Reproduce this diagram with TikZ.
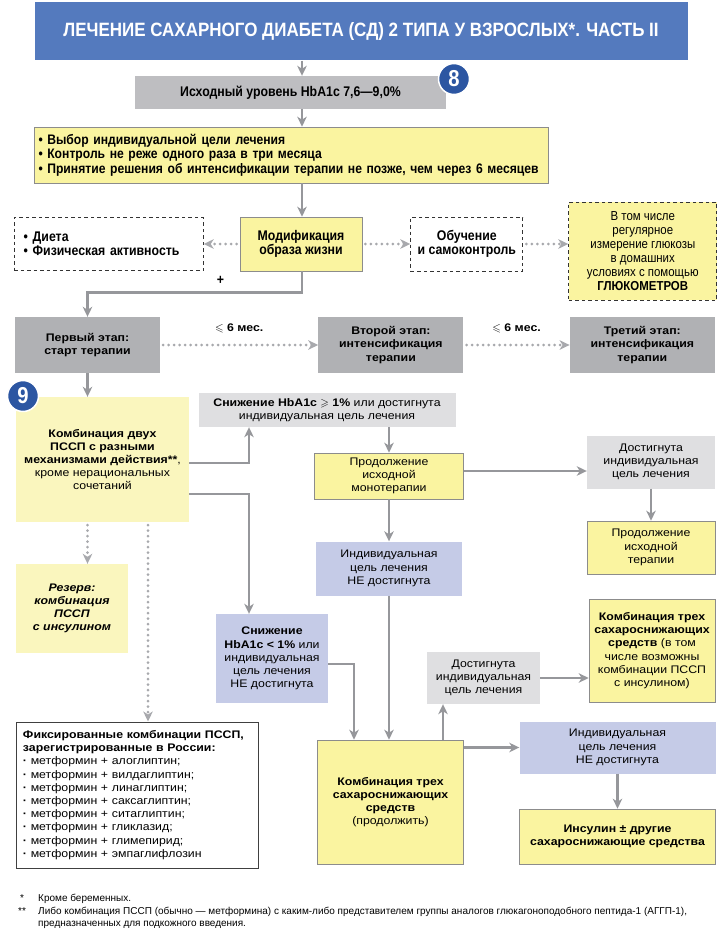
\documentclass[tikz,border=0pt]{standalone}
\usepackage{fontspec}
\setmainfont{Liberation Sans}[FakeStretch=1.12]
\newfontfamily\condfont{Liberation Sans}[FakeStretch=0.88, Ligatures=TeX]
\newfontfamily\notefont{Liberation Sans}[FakeStretch=1.0, Ligatures=TeX]
\usepackage{amssymb}
\usetikzlibrary{arrows.meta, positioning, calc}
\definecolor{titlecolor}{RGB}{84, 122, 190}
\definecolor{badgecolor}{RGB}{44, 86, 162}
\definecolor{stagecolor}{RGB}{176, 177, 180}
\definecolor{startcolor}{RGB}{190, 190, 193}
\definecolor{notecolor}{RGB}{223, 223, 225}
\definecolor{actioncolor}{RGB}{250, 244, 160}
\definecolor{palecolor}{RGB}{250, 246, 190}
\definecolor{failcolor}{RGB}{197, 203, 231}
\definecolor{linecolor}{RGB}{150, 151, 155}
\definecolor{dotcolor}{RGB}{168, 169, 173}
\definecolor{edgecolor}{RGB}{140, 140, 140}
\newcommand{\diagfont}{\fontsize{11}{13.2}\selectfont}
\newcommand{\diagcond}{\condfont\fontsize{14}{14.5}\selectfont}

\begin{document}
\begin{tikzpicture}[
    x=1pt, y=-1pt,
    >={Stealth[length=10pt, width=9.5pt, inset=3pt]},
    plain/.style={rectangle, inner sep=0pt, align=center, font=\diagfont},
    stagebox/.style={plain, fill=stagecolor, font=\diagfont\bfseries, minimum width=145pt, minimum height=56pt},
    notebox/.style={plain, fill=notecolor},
    actionbox/.style={plain, fill=actioncolor, draw=edgecolor, line width=0.6pt},
    palebox/.style={plain, fill=palecolor},
    failbox/.style={plain, fill=failcolor},
    dashbox/.style={plain, draw=black!80, line width=1pt, dash pattern=on 3.5pt off 3pt, font=\diagcond\bfseries},
    badge/.style={circle, fill=badgecolor, draw=white, line width=1.5pt, minimum size=31pt, inner sep=0pt, text=white, font=\condfont\fontsize{23}{23}\selectfont\bfseries},
    arrow/.style={->, line width=2.5pt, linecolor},
    dotarrow/.style={->, line width=3pt, dotcolor, dash pattern=on 0pt off 5.5pt, line cap=round, shorten <=3pt},
    note/.style={font=\notefont\fontsize{10}{12}\selectfont, inner sep=0pt, anchor=north west, align=left}
]
\useasboundingbox (0,0) rectangle (720,934);

% ========== TOP ==========
\node[plain, fill=titlecolor, minimum width=653pt, minimum height=58pt, text=white,
      font=\condfont\fontsize{19.3}{22}\selectfont\bfseries] (title) at (361,31.5)
    {ЛЕЧЕНИЕ САХАРНОГО ДИАБЕТА (СД) 2 ТИПА У ВЗРОСЛЫХ*. ЧАСТЬ II};

\node[plain, fill=startcolor, minimum width=311pt, minimum height=33pt, font=\diagcond\bfseries] (hba) at (290.5,92.5)
    {Исходный уровень HbA1c 7,6—9,0\%};
\node[badge] (badge8) at (454,79) {8};

\node[actionbox, text width=506pt, inner xsep=4pt, minimum height=56pt, align=left,
      font=\condfont\fontsize{13.8}{14.5}\selectfont\bfseries] (goals) at (291.5,155) {
    • Выбор индивидуальной цели лечения\\
    • Контроль не реже одного раза в три месяца\\
    • Принятие решения об интенсификации терапии не позже, чем через 6 месяцев
};

% ========== LIFESTYLE ==========
\node[actionbox, minimum width=122pt, minimum height=54pt, font=\diagcond\bfseries] (lifestyle) at (301,244)
    {Модификация\\образа жизни};
\node[dashbox, left=36pt of lifestyle, text width=170pt, inner xsep=9.5pt, minimum height=53pt, align=left] (diet)
    {• Диета\\• Физическая активность};
\node[dashbox, right=48pt of lifestyle, minimum width=112pt, minimum height=54pt] (edu)
    {Обучение\\и самоконтроль};
\node[dashbox, fill=actioncolor, right=45pt of edu, yshift=-7pt, minimum width=148pt, minimum height=98pt,
      font=\condfont\fontsize{13}{14}\selectfont] (meter) {
    В том числе\\регулярное\\измерение глюкозы\\в домашних\\условиях с помощью\\\textbf{ГЛЮКОМЕТРОВ}
};

% ========== STAGES ==========
\node[stagebox] (stage1) at (87.5,345) {Первый этап:\\старт терапии};
\node[stagebox, right=158pt of stage1] (stage2) {Второй этап:\\интенсификация\\терапии};
\node[stagebox, right=106pt of stage2] (stage3) {Третий этап:\\интенсификация\\терапии};

% ========== FIRST STAGE ==========
\node[palebox, minimum width=173pt, minimum height=125pt] (combo2) at (102.5,459.5) {
    \textbf{Комбинация двух}\\\textbf{ПССП с разными}\\\textbf{механизмами действия**},\\кроме нерациональных\\сочетаний
};
\node[badge] (badge9) at (23,396) {9};

\node[palebox, minimum width=112pt, minimum height=89pt, font=\diagfont\bfseries\itshape] (reserve) at (72,608.5)
    {Резерв:\\комбинация\\ПССП\\с инсулином};

\node[plain, draw=black!75, line width=1pt, text width=228pt, inner xsep=7pt, minimum height=146pt, align=left] (fixed) at (137,795) {
    \textbf{Фиксированные комбинации ПССП,}\\
    \textbf{зарегистрированные в России:}\\
    \textbf{·} метформин + алоглиптин;\\
    \textbf{·} метформин + вилдаглиптин;\\
    \textbf{·} метформин + линаглиптин;\\
    \textbf{·} метформин + саксаглиптин;\\
    \textbf{·} метформин + ситаглиптин;\\
    \textbf{·} метформин + гликлазид;\\
    \textbf{·} метформин + глимепирид;\\
    \textbf{·} метформин + эмпаглифлозин
};

% ========== OUTCOMES ==========
\node[notebox, minimum width=257pt, minimum height=34pt] (drop1) at (327,410)
    {\textbf{Снижение HbA1c $\geqslant$ 1\%} или достигнута\\индивидуальная цель лечения};
\node[actionbox, minimum width=149pt, minimum height=46pt] (mono) at (389,476)
    {Продолжение\\исходной\\монотерапии};
\node[notebox, minimum width=128pt, minimum height=53pt] (goalR) at (651,462)
    {Достигнута\\индивидуальная\\цель лечения};
\node[actionbox, below=32pt of goalR, minimum width=128pt, minimum height=53pt] (contR)
    {Продолжение\\исходной\\терапии};
\node[failbox, below=42pt of mono, minimum width=146pt, minimum height=54pt] (fail1)
    {Индивидуальная\\цель лечения\\НЕ достигнута};

\node[failbox, minimum width=112pt, minimum height=89pt] (drop2) at (272,658.5)
    {\textbf{Снижение}\\\textbf{HbA1c < 1\%} или\\индивидуальная\\цель лечения\\НЕ достигнута};
\node[notebox, minimum width=113pt, minimum height=52pt] (goalM) at (483.5,678)
    {Достигнута\\индивидуальная\\цель лечения};
\node[actionbox, minimum width=126pt, minimum height=103pt] (triple1) at (652,650.5) {
    \textbf{Комбинация трех}\\\textbf{сахароснижающих}\\\textbf{средств} (в том\\числе возможны\\комбинации ПССП\\с инсулином)
};
\node[actionbox, minimum width=146pt, minimum height=124pt] (triple2) at (390.5,802) {
    \textbf{Комбинация трех}\\\textbf{сахароснижающих}\\\textbf{средств}\\(продолжить)
};
\node[failbox, minimum width=196pt, minimum height=52pt] (fail2) at (617.5,747.5)
    {Индивидуальная\\цель лечения\\НЕ достигнута};
\node[actionbox, below=35pt of fail2, minimum width=196pt, minimum height=55pt, font=\diagfont\bfseries] (insulin)
    {Инсулин ± другие\\сахароснижающие средства};

% ========== ARROWS ==========
\coordinate (spine) at (302,0);
\coordinate (fork) at (249,0);
\coordinate (listcol) at (148,0);
\coordinate (join) at (354,0);
\coordinate (upcol) at (443,0);

% Top column
\draw[arrow] (title.south -| spine) -- (hba.north -| spine);
\draw[arrow] (hba.south -| spine) -- (goals.north -| spine);
\draw[arrow] (goals.south -| spine) -- (lifestyle.north -| spine);

% Lifestyle
\draw[dotarrow] (lifestyle.west) -- (diet.east);
\draw[dotarrow] (lifestyle.east) -- (edu.west);
\draw[dotarrow] (edu.east) -- (meter.west |- edu.east);
\draw[arrow] (lifestyle.south -| spine) -- ++(0,21) -| node[pos=0.19, above=3pt, text=black, font=\diagcond\bfseries] {+} (stage1.north);

% Stages
\draw[dotarrow] (stage1) -- node[above=7pt, font=\diagfont\bfseries, text=black] {$\leqslant$ 6 мес.} (stage2);
\draw[dotarrow] (stage2) -- node[above=7pt, font=\diagfont\bfseries, text=black] {$\leqslant$ 6 мес.} (stage3);
\draw[arrow] (stage1.south) -- (stage1.south |- combo2.north);

% First stage branches
\draw[arrow] (combo2.east |- 0,463) -| (fork |- drop1.south);
\draw[arrow] (combo2.east |- 0,494) -| (fork |- drop2.north);
\draw[dotarrow] (stage1.south |- combo2.south) -- (stage1.south |- reserve.north);
\draw[dotarrow] (listcol |- combo2.south) -- (listcol |- fixed.north);

% Second stage
\draw[arrow] (mono.north |- drop1.south) -- (mono.north);
\draw[arrow] (mono.east |- 0,471) -- (goalR.west |- 0,471);
\draw[arrow] (goalR) -- (contR);
\draw[arrow] (mono) -- (fail1);
\draw[arrow] (fail1) -- (fail1.south |- triple2.north);
\draw[arrow] (drop2.east |- 0,664) -| (join |- triple2.north);

% Third stage
\draw[arrow] (upcol |- triple2.north) -- (upcol |- goalM.south);
\draw[arrow] (goalM) -- (triple1.west |- goalM);
\draw[arrow] (triple2.east |- fail2) -- (fail2);
\draw[arrow] (fail2) -- (insulin);

% ========== FOOTNOTES ==========
\node[note] (star1) at (20,894) {*};
\node[note] (foot1) at (38,894) {Кроме беременных.};
\node[note] (star2) at (18,907) {**};
\node[note] (foot2) at (38,907) {Либо комбинация ПССП (обычно — метформина) с каким-либо представителем группы аналогов глюкагоноподобного пептида-1 (АГГП-1),\\предназначенных для подкожного введения.};

\end{tikzpicture}
\end{document}
